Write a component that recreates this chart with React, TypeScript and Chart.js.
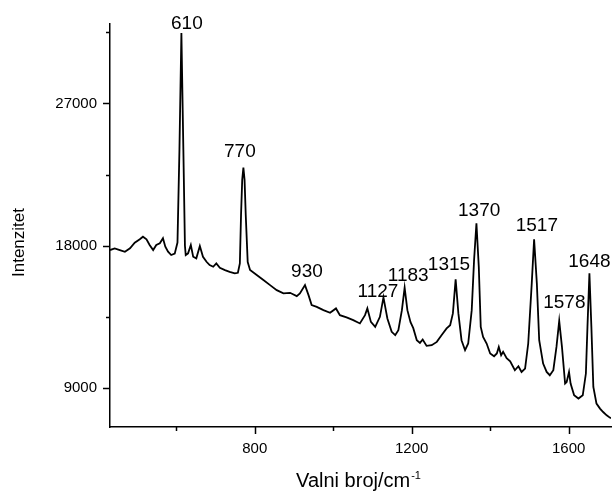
import React, { useEffect, useRef } from 'react';
import { Chart, registerables } from 'chart.js';

Chart.register(...registerables);

// Raman spectrum (wavenumber, cm-1) and intensity
const wavenumbers = [
  431, 443, 456, 469, 482, 494, 507, 515, 524, 532, 541, 549, 558, 566, 572, 579, 587, 596,
  603, 608, 613, 618, 622, 624, 630, 637, 643, 651, 660, 668, 677, 685, 694, 702, 711, 724,
  736, 749, 757, 762, 765, 768, 771, 774, 777, 782, 788, 805, 822, 839, 856, 873, 890, 907,
  915, 928, 937, 945, 958, 975, 992, 1007, 1017, 1034, 1051, 1068, 1081, 1087, 1096, 1107,
  1119, 1128, 1138, 1149, 1158, 1166, 1175, 1182, 1189, 1197, 1204, 1213, 1221, 1228, 1238,
  1251, 1264, 1276, 1289, 1298, 1305, 1312, 1319, 1327, 1336, 1344, 1353, 1359, 1365, 1371,
  1376, 1382, 1391, 1400, 1410, 1417, 1422, 1428, 1433, 1442, 1451, 1463, 1472, 1480, 1489,
  1497, 1506, 1512, 1519, 1525, 1535, 1544, 1552, 1561, 1569, 1576, 1583, 1591, 1595, 1601,
  1605, 1614, 1625, 1636, 1644, 1648, 1653, 1658, 1663, 1671, 1680, 1688, 1697, 1705, 1708,
];
const intensities = [
  17727, 17835, 17727, 17620, 17835, 18190, 18406, 18570, 18406, 18044, 17727, 18044, 18152, 18469, 17937, 17620, 17411, 17500,
  18200, 24066, 31462, 24066, 18000, 17411, 17518, 18044, 17303, 17201, 17981, 17303, 16986, 16777, 16669, 16885, 16606, 16460,
  16352, 16251, 16289, 16885, 19946, 22164, 22944, 22164, 19946, 16967, 16460, 16143, 15826, 15509, 15192, 14983, 15021, 14812,
  14983, 15509, 14875, 14242, 14134, 13925, 13754, 14032, 13608, 13462, 13291, 13082, 13608, 14032, 13183, 12866,
  13500, 14730, 13399, 12549, 12340, 12657, 13925, 15350, 13925, 13164, 12784, 12023, 11852, 12068, 11662,
  11706, 11916, 12340, 12765, 12974, 13716, 15870, 13716, 12023, 11389, 11814, 13925, 17094, 19420, 16669,
  12866, 12232, 11814, 11180, 11009, 11180, 11598, 11073, 11282, 10882, 10692, 10122, 10375, 10014, 10230,
  11814, 15617, 18406, 15617, 12023, 10546, 10014, 9805, 10122, 11598, 13247, 11598, 9279, 9380, 10014,
  9279, 8537, 8328, 8537, 9913, 12866, 16251, 12866, 9063, 8011, 7694, 7479, 7270, 7124, 7080,
];

const xMajorTicks = [800, 1200, 1600];
const xMinorTicks = [600, 1000, 1400];
const yMajorTicks = [9000, 18000, 27000];
const yMinorTicks = [13500, 22500, 31500];

// Peak annotations: text and where each label sits (data units)
const peakLabels = ['610', '770', '930', '1127', '1183', '1315', '1370', '1517', '1578', '1648'];
const peakLabelX = [627, 762, 933, 1114, 1191, 1295, 1372, 1519, 1589, 1653];
const peakLabelY = [32051, 23939, 16352, 15085, 16080, 16777, 20218, 19268, 14387, 16986];

const xTitle = 'Valni broj/cm';
const xTitleSup = '-1';
const yTitle = 'Intenzitet';

const FONT = '"Liberation Sans", Arial, Helvetica, sans-serif';

export default function App() {
  const ref = useRef<HTMLCanvasElement | null>(null);

  useEffect(() => {
    document.body.style.margin = '0';
    const canvas = ref.current;
    if (!canvas) return;

    const decor = {
      id: 'decor',
      afterDraw(chart: any) {
        const { ctx, chartArea } = chart;
        const x = chart.scales.x;
        const y = chart.scales.y;
        ctx.save();
        ctx.strokeStyle = '#000';
        ctx.lineWidth = 1.5;
        const xt = (vals: number[], len: number) =>
          vals.forEach((v) => {
            const px = Math.round(x.getPixelForValue(v)) + 0.5;
            ctx.beginPath();
            ctx.moveTo(px, chartArea.bottom);
            ctx.lineTo(px, chartArea.bottom + len);
            ctx.stroke();
          });
        const yt = (vals: number[], len: number) =>
          vals.forEach((v) => {
            const py = Math.round(y.getPixelForValue(v)) + 0.5;
            ctx.beginPath();
            ctx.moveTo(chartArea.left, py);
            ctx.lineTo(chartArea.left - len, py);
            ctx.stroke();
          });
        xt(xMajorTicks, 7);
        xt(xMinorTicks, 4);
        yt(yMajorTicks, 7);
        yt(yMinorTicks, 4);

        ctx.fillStyle = '#000';
        ctx.font = `19px ${FONT}`;
        ctx.textAlign = 'center';
        ctx.textBaseline = 'middle';
        peakLabels.forEach((t, i) => {
          ctx.fillText(t, x.getPixelForValue(peakLabelX[i]), y.getPixelForValue(peakLabelY[i]));
        });

        // x title with superscript
        ctx.textAlign = 'left';
        ctx.textBaseline = 'alphabetic';
        ctx.font = `20px ${FONT}`;
        const w1 = ctx.measureText(xTitle).width;
        ctx.font = `11px ${FONT}`;
        const w2 = ctx.measureText(xTitleSup).width;
        const cx = (chartArea.left + chartArea.right) / 2 - 2.5;
        const sx = cx - (w1 + w2) / 2;
        const base = chartArea.bottom + 60;
        ctx.font = `20px ${FONT}`;
        ctx.fillText(xTitle, sx, base);
        ctx.font = `11px ${FONT}`;
        ctx.fillText(xTitleSup, sx + w1 + 1, base - 8);

        // y title
        ctx.save();
        ctx.translate(24, (chartArea.top + chartArea.bottom) / 2 + 17);
        ctx.rotate(-Math.PI / 2);
        ctx.font = `17px ${FONT}`;
        ctx.textAlign = 'center';
        ctx.textBaseline = 'alphabetic';
        ctx.fillText(yTitle, 0, 0);
        ctx.restore();
        ctx.restore();
      },
    };

    const chart = new Chart(canvas, {
      type: 'line',
      data: {
        datasets: [
          {
            data: wavenumbers.map((w, i) => ({ x: w, y: intensities[i] })),
            borderColor: '#000',
            borderWidth: 1.8,
            pointRadius: 0,
            tension: 0,
            fill: false,
          },
        ],
      },
      options: {
        responsive: false,
        animation: false,
        devicePixelRatio: 1,
        layout: { padding: { top: 24, right: 2, bottom: 0, left: 0 } },
        plugins: { legend: { display: false }, tooltip: { enabled: false } },
        scales: {
          x: {
            type: 'linear',
            min: 431,
            max: 1708,
            afterBuildTicks: (s: any) => {
              s.ticks = xMajorTicks.map((v) => ({ value: v }));
            },
            afterFit: (s: any) => {
              s.height = 64;
            },
            grid: { display: true, drawOnChartArea: false, drawTicks: false },
            border: { display: true, color: '#000', width: 1.5 },
            ticks: {
              color: '#000',
              padding: 13,
              maxRotation: 0,
              font: { family: FONT, size: 15 },
              callback: (v: any) => String(v),
            },
          },
          y: {
            type: 'linear',
            min: 6530,
            max: 32030,
            afterBuildTicks: (s: any) => {
              s.ticks = yMajorTicks.map((v) => ({ value: v }));
            },
            afterFit: (s: any) => {
              s.width = 110;
            },
            grid: { display: true, drawOnChartArea: false, drawTicks: false },
            border: { display: true, color: '#000', width: 1.5 },
            ticks: {
              color: '#000',
              padding: 13,
              font: { family: FONT, size: 15 },
              callback: (v: any) => String(v),
            },
          },
        },
      },
      plugins: [decor],
    });

    return () => chart.destroy();
  }, []);

  return (
    <div style={{ position: 'absolute', left: 0, top: 0, width: 613, height: 491 }}>
      <canvas ref={ref} width={613} height={491} />
    </div>
  );
}
